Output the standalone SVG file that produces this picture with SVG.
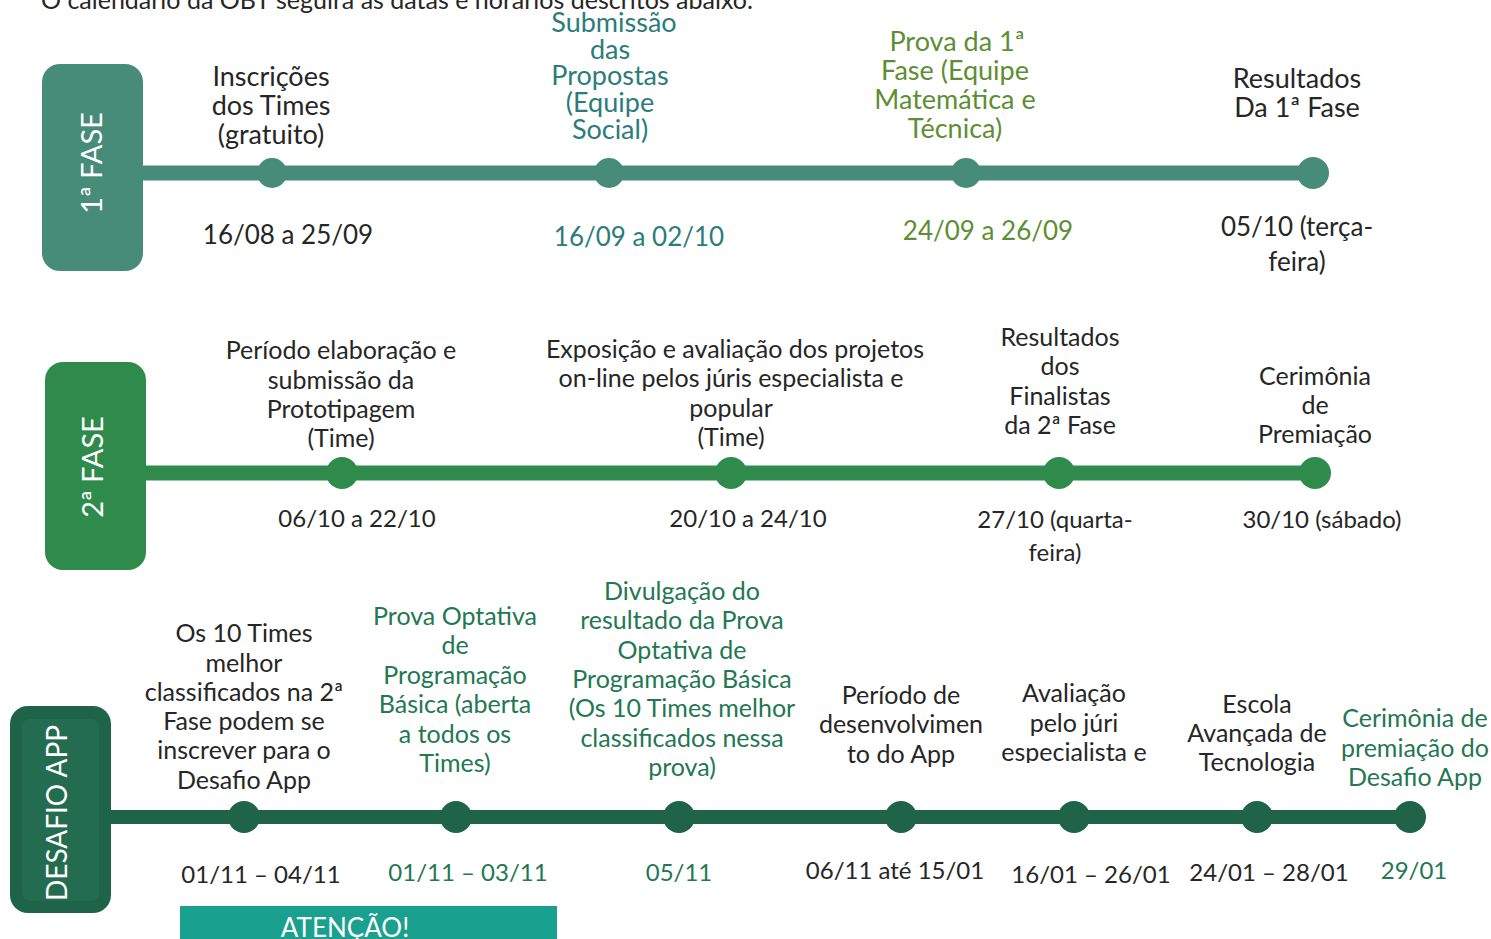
<svg xmlns="http://www.w3.org/2000/svg" width="1491" height="939" viewBox="0 0 1491 939">
<defs>
<style>
text{font-family:Lato,"Liberation Sans",sans-serif;font-size:25px;text-anchor:middle;fill:#262626}
.big{font-size:27px}
.d1{font-size:26px}
.d2{font-size:24px}
.lbl{fill:#fff;font-size:29px}
.teal{fill:#2b7c7b}
.olive{fill:#5e8e33}
.dg{fill:#237752}
.p1{fill:#468c79}
.p2{fill:#2e8b4c}
.p3{fill:#1f6449}
.l1{stroke:#468c79;stroke-width:15}
.l2{stroke:#2e8b4c;stroke-width:15}
.l3{stroke:#1f6449;stroke-width:14}
</style>
<clipPath id="clipAv"><rect x="980" y="670" width="200" height="93"/></clipPath>
</defs>
<rect width="1491" height="939" fill="#fff"/>
<text x="41" y="9" style="text-anchor:start">O calendário da OBT seguirá as datas e horários descritos abaixo.</text>

<g id="connectors">
<line class="l1" x1="140" y1="173" x2="1313" y2="173"/>
<line class="l2" x1="143" y1="473" x2="1315" y2="473"/>
<line class="l3" x1="108" y1="817" x2="1410" y2="817"/>
</g>

<g id="fase1">
<rect class="p1" x="42" y="64" width="101" height="207" rx="18"/>
<text class="lbl" transform="translate(102,163) rotate(-90)">1ª FASE</text>
</g>
<g id="fase2">
<rect class="p2" x="45" y="362" width="101" height="208" rx="18"/>
<text class="lbl" transform="translate(103,467) rotate(-90)">2ª FASE</text>
</g>
<g id="desafio">
<rect class="p3" x="10" y="706" width="101" height="207" rx="18"/>
<rect x="22" y="719" width="77" height="182" rx="8" fill="#246c50"/>
<text class="lbl" transform="translate(67,813) rotate(-90)" style="font-size:28px">DESAFIO APP</text>
</g>

<g id="n1a">
<circle class="p1" cx="272" cy="173" r="15"/>
<text class="big" x="271" y="86">Inscrições</text><text class="big" x="271" y="115">dos Times</text><text class="big" x="271" y="144">(gratuito)</text>
<text class="d1" x="288" y="244">16/08 a 25/09</text>
</g>
<g id="n1b">
<circle class="p1" cx="609" cy="173" r="15"/>
<text class="big teal" x="614" y="32">Submissão</text><text class="big teal" x="610" y="59">das</text><text class="big teal" x="610" y="85">Propostas</text><text class="big teal" x="610" y="112">(Equipe</text><text class="big teal" x="610" y="139">Social)</text>
<text class="d1 teal" x="639" y="246">16/09 a 02/10</text>
</g>
<g id="n1c">
<circle class="p1" cx="966" cy="173" r="15"/>
<text class="big olive" x="957" y="51">Prova da 1ª</text><text class="big olive" x="955" y="80">Fase (Equipe</text><text class="big olive" x="955" y="109">Matemática e</text><text class="big olive" x="955" y="138">Técnica)</text>
<text class="d1 olive" x="988" y="240">24/09 a 26/09</text>
</g>
<g id="n1d">
<circle class="p1" cx="1313" cy="173" r="16"/>
<text class="big" x="1297" y="88">Resultados</text><text class="big" x="1297" y="117">Da 1ª Fase</text>
<text class="d1" x="1297" y="236">05/10 (terça-</text><text class="d1" x="1297" y="271">feira)</text>
</g>

<g id="n2a">
<circle class="p2" cx="342" cy="473" r="16"/>
<text x="341" y="359">Período elaboração e</text><text x="341" y="389">submissão da</text><text x="341" y="418">Prototipagem</text><text x="341" y="447">(Time)</text>
<text class="d2" x="357" y="527">06/10 a 22/10</text>
</g>
<g id="n2b">
<circle class="p2" cx="731" cy="473" r="16"/>
<text x="735" y="358">Exposição e avaliação dos projetos</text><text x="731" y="387">on-line pelos júris especialista e</text><text x="731" y="417">popular</text><text x="731" y="446">(Time)</text>
<text class="d2" x="748" y="527">20/10 a 24/10</text>
</g>
<g id="n2c">
<circle class="p2" cx="1059" cy="473" r="16"/>
<text x="1060" y="346">Resultados</text><text x="1060" y="375">dos</text><text x="1060" y="405">Finalistas</text><text x="1060" y="434">da 2ª Fase</text>
<text class="d2" x="1055" y="528">27/10 (quarta-</text><text class="d2" x="1055" y="561">feira)</text>
</g>
<g id="n2d">
<circle class="p2" cx="1315" cy="473" r="16"/>
<text x="1315" y="385">Cerimônia</text><text x="1315" y="414">de</text><text x="1315" y="443">Premiação</text>
<text class="d2" x="1322" y="528">30/10 (sábado)</text>
</g>

<g id="n3a">
<circle class="p3" cx="244" cy="817" r="16"/>
<text x="244" y="642">Os 10 Times</text><text x="244" y="672">melhor</text><text x="244" y="701">classificados na 2ª</text><text x="244" y="730">Fase podem se</text><text x="244" y="759">inscrever para o</text><text x="244" y="789">Desafio App</text>
<text class="d2" x="261" y="883">01/11 – 04/11</text>
</g>
<g id="n3b">
<circle class="p3" cx="456" cy="817" r="16"/>
<text class="dg" x="455" y="625">Prova Optativa</text><text class="dg" x="455" y="654">de</text><text class="dg" x="455" y="684">Programação</text><text class="dg" x="455" y="713">Básica (aberta</text><text class="dg" x="455" y="743">a todos os</text><text class="dg" x="455" y="772">Times)</text>
<text class="d2 dg" x="468" y="881">01/11 – 03/11</text>
</g>
<g id="n3c">
<circle class="p3" cx="679" cy="817" r="16"/>
<text class="dg" x="682" y="600">Divulgação do</text><text class="dg" x="682" y="629">resultado da Prova</text><text class="dg" x="682" y="659">Optativa de</text><text class="dg" x="682" y="688">Programação Básica</text><text class="dg" x="682" y="717">(Os 10 Times melhor</text><text class="dg" x="682" y="747">classificados nessa</text><text class="dg" x="682" y="776">prova)</text>
<text class="d2 dg" x="679" y="881">05/11</text>
</g>
<g id="n3d">
<circle class="p3" cx="901" cy="817" r="16"/>
<text x="901" y="704">Período de</text><text x="901" y="733">desenvolvimen</text><text x="901" y="763">to do App</text>
<text class="d2" x="895" y="879">06/11 até 15/01</text>
</g>
<g id="n3e">
<circle class="p3" cx="1074" cy="817" r="16"/>
<g clip-path="url(#clipAv)"><text x="1074" y="702">Avaliação</text><text x="1074" y="732">pelo júri</text><text x="1074" y="761">especialista e</text></g>
<text class="d2" x="1091" y="883">16/01 – 26/01</text>
</g>
<g id="n3f">
<circle class="p3" cx="1257" cy="817" r="16"/>
<text x="1257" y="713">Escola</text><text x="1257" y="742">Avançada de</text><text x="1257" y="771">Tecnologia</text>
<text class="d2" x="1269" y="881">24/01 – 28/01</text>
</g>
<g id="n3g">
<circle class="p3" cx="1410" cy="817" r="16"/>
<text class="dg" x="1415" y="727">Cerimônia de</text><text class="dg" x="1415" y="757">premiação do</text><text class="dg" x="1415" y="786">Desafio App</text>
<text class="d2 dg" x="1414" y="879">29/01</text>
</g>

<g id="atencao">
<rect x="180" y="906" width="377" height="40" fill="#1aa08f"/>
<text x="345" y="937" style="fill:#fff;font-size:26px">ATENÇÃO!</text>
</g>
</svg>
